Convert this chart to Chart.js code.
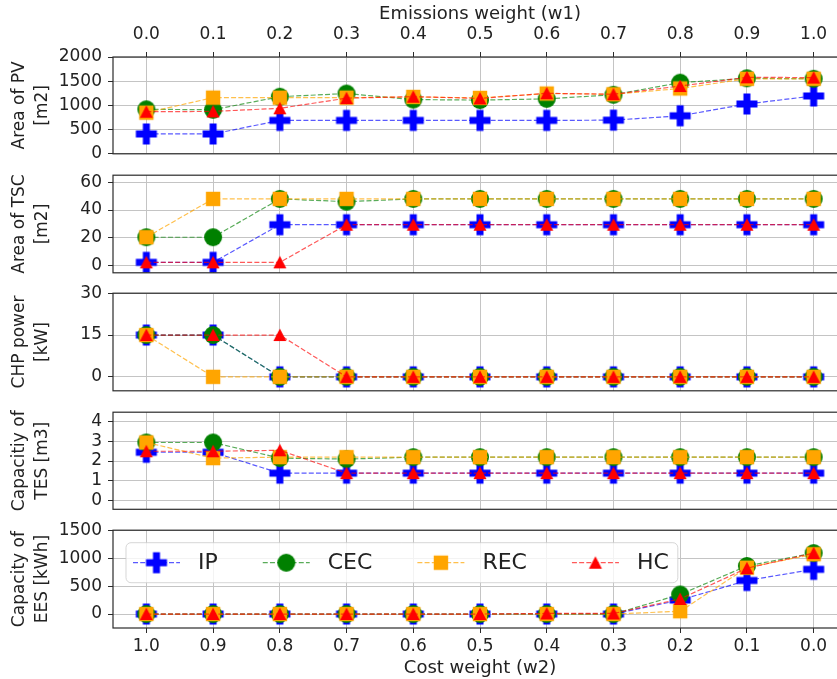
<!DOCTYPE html>
<html lang="en">
<head>
    <meta charset="UTF-8">
    <title>Design results vs. weights</title>
    <style>
        html, body {
            margin: 0;
            padding: 0;
            background: #fff;
            overflow: hidden;
        }
        #wrap {
            position: relative;
            width: 837px;
            height: 679px;
            overflow: hidden;
        }
        .panel {
            position: absolute;
            left: 0;
        }
    </style>
</head>
<body>
<div id="wrap">
    <canvas class="panel" id="pv" width="880" height="170" style="top:0px"></canvas>
    <canvas class="panel" id="tsc" width="880" height="130" style="top:159px"></canvas>
    <canvas class="panel" id="chp" width="880" height="130" style="top:277px"></canvas>
    <canvas class="panel" id="tes" width="880" height="130" style="top:396px"></canvas>
    <canvas class="panel" id="ees" width="880" height="165" style="top:514px"></canvas>
</div>

<script src="https://cdn.jsdelivr.net/npm/chart.js"></script>
<script>
    // x categories: top axis = emissions weight, bottom axis = cost weight
    const emissionLabels = ['0.0', '0.1', '0.2', '0.3', '0.4', '0.5', '0.6', '0.7', '0.8', '0.9', '1.0'];
    const costLabels = ['1.0', '0.9', '0.8', '0.7', '0.6', '0.5', '0.4', '0.3', '0.2', '0.1', '0.0'];
    const seriesNames = ['IP', 'CEC', 'REC', 'HC'];

    // Area of PV [m2]
    const pvIP  = [410, 410, 690, 690, 690, 690, 690, 695, 785, 1030, 1195];
    const pvCEC = [920, 910, 1180, 1245, 1120, 1110, 1135, 1220, 1470, 1560, 1550];
    const pvREC = [850, 1160, 1160, 1160, 1175, 1155, 1245, 1230, 1350, 1550, 1550];
    const pvHC  = [870, 875, 940, 1150, 1180, 1145, 1250, 1230, 1400, 1580, 1575];
    const pvTicks = [0, 500, 1000, 1500, 2000];

    // Area of TSC [m2]
    const tscIP  = [2.5, 2.5, 29.5, 29.5, 29.5, 29.5, 29.5, 29.5, 29.5, 29.5, 29.5];
    const tscCEC = [20.5, 20.5, 48, 46, 48, 48, 48, 48, 48, 48, 48];
    const tscREC = [20.5, 48, 48, 48, 48, 48, 48, 48, 48, 48, 48];
    const tscHC  = [2.5, 2.5, 2.5, 29.5, 29.5, 29.5, 29.5, 29.5, 29.5, 29.5, 29.5];
    const tscTicks = [0, 20, 40, 60];

    // CHP power [kW]
    const chpIP  = [15, 15, 0, 0, 0, 0, 0, 0, 0, 0, 0];
    const chpCEC = [15, 15, 0, 0, 0, 0, 0, 0, 0, 0, 0];
    const chpREC = [15, 0, 0, 0, 0, 0, 0, 0, 0, 0, 0];
    const chpHC  = [15, 15, 15, 0, 0, 0, 0, 0, 0, 0, 0];
    const chpTicks = [0, 15, 30];

    // Capacity of TES [m3]
    const tesIP  = [2.45, 2.45, 1.38, 1.38, 1.38, 1.38, 1.38, 1.38, 1.38, 1.38, 1.38];
    const tesCEC = [2.95, 2.95, 2.15, 2.1, 2.2, 2.2, 2.2, 2.2, 2.2, 2.2, 2.2];
    const tesREC = [2.95, 2.15, 2.2, 2.2, 2.2, 2.2, 2.2, 2.2, 2.2, 2.2, 2.2];
    const tesHC  = [2.5, 2.5, 2.55, 1.38, 1.38, 1.38, 1.38, 1.38, 1.38, 1.38, 1.38];
    const tesTicks = [0, 1, 2, 3, 4];

    // Capacity of EES [kWh]
    const eesIP  = [0, 0, 0, 0, 0, 0, 0, 0, 250, 600, 800];
    const eesCEC = [0, 0, 0, 0, 0, 0, 0, 0, 350, 860, 1090];
    const eesREC = [0, 0, 0, 0, 0, 0, 0, 0, 50, 830, 1070];
    const eesHC  = [0, 0, 0, 0, 0, 0, 10, 10, 270, 820, 1090];
    const eesTicks = [0, 500, 1000, 1500];

    const FONT = "'DejaVu Sans', 'Noto Sans', sans-serif";
    const TEXT = '#222';
    const GRID = '#c4c4c4';
    const FRAME = '#2b2b2b';

    Chart.defaults.font.family = FONT;
    Chart.defaults.color = TEXT;

    // marker glyphs, drawn once and used as pointStyle images
    function makeMarker(kind, color) {
        const s = 24;
        const c = document.createElement('canvas');
        c.width = s;
        c.height = s;
        const g = c.getContext('2d');
        g.translate(s / 2, s / 2);
        g.fillStyle = color;
        g.beginPath();
        if (kind === 'plus') {
            const a = 10.5, b = 3.5;
            g.moveTo(-b, -a); g.lineTo(b, -a); g.lineTo(b, -b); g.lineTo(a, -b);
            g.lineTo(a, b); g.lineTo(b, b); g.lineTo(b, a); g.lineTo(-b, a);
            g.lineTo(-b, b); g.lineTo(-a, b); g.lineTo(-a, -b); g.lineTo(-b, -b);
        } else if (kind === 'circle') {
            g.arc(0, 0, 9, 0, Math.PI * 2);
        } else if (kind === 'square') {
            g.rect(-7.2, -7.2, 14.4, 14.4);
        } else {
            g.moveTo(0, -6.5); g.lineTo(6.5, 6); g.lineTo(-6.5, 6);
        }
        g.closePath();
        g.fill();
        return c;
    }

    const styles = [
        { line: 'rgba(0,0,255,0.65)', marker: makeMarker('plus', '#0000ff'), order: 4 },
        { line: 'rgba(0,128,0,0.65)', marker: makeMarker('circle', '#008000'), order: 3 },
        { line: 'rgba(255,165,0,0.7)', marker: makeMarker('square', '#ffa500'), order: 2 },
        { line: 'rgba(255,0,0,0.65)', marker: makeMarker('triangle', '#ff0000'), order: 1 }
    ];
    const DASH = [5, 2.2];

    // frame round each plot area (drawn above the lines, like axis spines)
    const framePlugin = {
        id: 'frame',
        afterDatasetsDraw(chart) {
            const a = chart.chartArea;
            const ctx = chart.ctx;
            ctx.save();
            ctx.strokeStyle = FRAME;
            ctx.lineWidth = 1.2;
            ctx.strokeRect(a.left, a.top, a.right - a.left, a.bottom - a.top);
            ctx.restore();
        }
    };

    // boxed legend inside the bottom panel
    const boxLegend = {
        id: 'boxLegend',
        afterDraw(chart, args, opts) {
            if (!opts.show) return;
            const ctx = chart.ctx;
            const a = chart.chartArea;
            ctx.save();
            ctx.font = '22px ' + FONT;
            const boxX = a.left + 13, boxY = a.top + 12.5, boxH = 40;
            const rowY = boxY + boxH / 2;
            let x = boxX + 7;
            const items = [];
            seriesNames.forEach((name, i) => {
                const w = ctx.measureText(name).width;
                items.push({ name, i, x });
                x += 66 + w + 44;
            });
            const boxW = x - 44 + 8 - boxX;

            ctx.beginPath();
            ctx.roundRect(boxX, boxY, boxW, boxH, 5);
            ctx.fillStyle = 'rgba(255,255,255,0.8)';
            ctx.fill();
            ctx.strokeStyle = 'rgba(204,204,204,0.8)';
            ctx.lineWidth = 1;
            ctx.stroke();

            items.forEach(it => {
                const st = styles[it.i];
                ctx.beginPath();
                ctx.setLineDash(DASH);
                ctx.strokeStyle = st.line;
                ctx.lineWidth = 1.2;
                ctx.moveTo(it.x, rowY);
                ctx.lineTo(it.x + 47, rowY);
                ctx.stroke();
                ctx.setLineDash([]);
                const m = st.marker;
                ctx.drawImage(m, it.x + 23.5 - m.width / 2, rowY - m.height / 2);
                ctx.fillStyle = TEXT;
                ctx.textBaseline = 'middle';
                ctx.textAlign = 'left';
                ctx.fillText(it.name, it.x + 65, rowY + 1);
            });
            ctx.restore();
        }
    };

    function makePanel(id, p) {
        const datasets = p.series.map((vals, i) => ({
            label: seriesNames[i],
            data: vals,
            borderColor: styles[i].line,
            borderWidth: 1.2,
            borderDash: DASH,
            pointStyle: styles[i].marker,
            pointRadius: 10,
            pointHoverRadius: 10,
            fill: false,
            tension: 0,
            order: styles[i].order
        }));

        const hasX = p.xAxis === 'top' || p.xAxis === 'bottom';

        return new Chart(document.getElementById(id), {
            type: 'line',
            data: { labels: emissionLabels, datasets },
            plugins: [framePlugin, boxLegend],
            options: {
                responsive: false,
                animation: false,
                events: [],
                layout: { padding: { left: 0, right: 33, top: p.padTop, bottom: p.padBottom } },
                plugins: {
                    legend: { display: false },
                    tooltip: { enabled: false },
                    boxLegend: { show: !!p.legend }
                },
                scales: {
                    x: {
                        type: 'category',
                        offset: true,
                        position: p.xAxis === 'top' ? 'top' : 'bottom',
                        grid: {
                            offset: false,
                            color: GRID,
                            lineWidth: 1,
                            drawTicks: hasX,
                            tickLength: 5,
                            tickColor: FRAME
                        },
                        border: { display: false },
                        ticks: {
                            display: hasX,
                            autoSkip: false,
                            maxRotation: 0,
                            padding: p.xAxis === 'top' ? 7 : 3,
                            font: { size: 17 },
                            color: TEXT,
                            callback: (v, i) => p.xAxis === 'bottom' ? costLabels[i] : emissionLabels[i]
                        },
                        title: {
                            display: hasX,
                            text: p.xTitle || '',
                            font: { size: 18, lineHeight: 1.2 },
                            color: TEXT,
                            padding: { top: 4, bottom: 0 }
                        },
                        afterFit: axis => { axis.height = p.xHeight || 0; }
                    },
                    y: {
                        min: p.yMin,
                        max: p.yMax,
                        afterBuildTicks: axis => { axis.ticks = p.yTicks.map(v => ({ value: v })); },
                        afterFit: axis => { axis.width = 113; },
                        grid: { color: GRID, lineWidth: 1, tickLength: 5, tickColor: FRAME },
                        border: { display: false },
                        ticks: {
                            padding: 6,
                            font: { size: 17 },
                            color: TEXT,
                            callback: v => String(v)
                        },
                        title: {
                            display: true,
                            text: p.yTitle,
                            font: { size: 17, lineHeight: 1.3 },
                            color: TEXT,
                            padding: { top: 9, bottom: 0 }
                        }
                    }
                }
            }
        });
    }

    makePanel('pv', {
        series: [pvIP, pvCEC, pvREC, pvHC], yMin: 0, yMax: 2000, yTicks: pvTicks,
        yTitle: ['Area of PV', '[m2]'],
        xAxis: 'top', xTitle: 'Emissions weight (w1)', xHeight: 57,
        padTop: 0, padBottom: 15.5
    });
    makePanel('tsc', {
        series: [tscIP, tscCEC, tscREC, tscHC], yMin: -5, yMax: 65, yTicks: tscTicks,
        yTitle: ['Area of TSC', '[m2]'],
        padTop: 15, padBottom: 16
    });
    makePanel('chp', {
        series: [chpIP, chpCEC, chpREC, chpHC], yMin: -5, yMax: 30, yTicks: chpTicks,
        yTitle: ['CHP power', '[kW]'],
        padTop: 15.3, padBottom: 16
    });
    makePanel('tes', {
        series: [tesIP, tesCEC, tesREC, tesHC], yMin: -0.47, yMax: 4.5, yTicks: tesTicks,
        yTitle: ['Capacitiy of', 'TES [m3]'],
        padTop: 14.7, padBottom: 16.7
    });
    makePanel('ees', {
        series: [eesIP, eesCEC, eesREC, eesHC], yMin: -250, yMax: 1500, yTicks: eesTicks,
        yTitle: ['Capacity of', 'EES [kWh]'],
        xAxis: 'bottom', xTitle: 'Cost weight (w2)', xHeight: 51,
        padTop: 15.3, padBottom: 0,
        legend: true
    });
</script>
</body>
</html>
